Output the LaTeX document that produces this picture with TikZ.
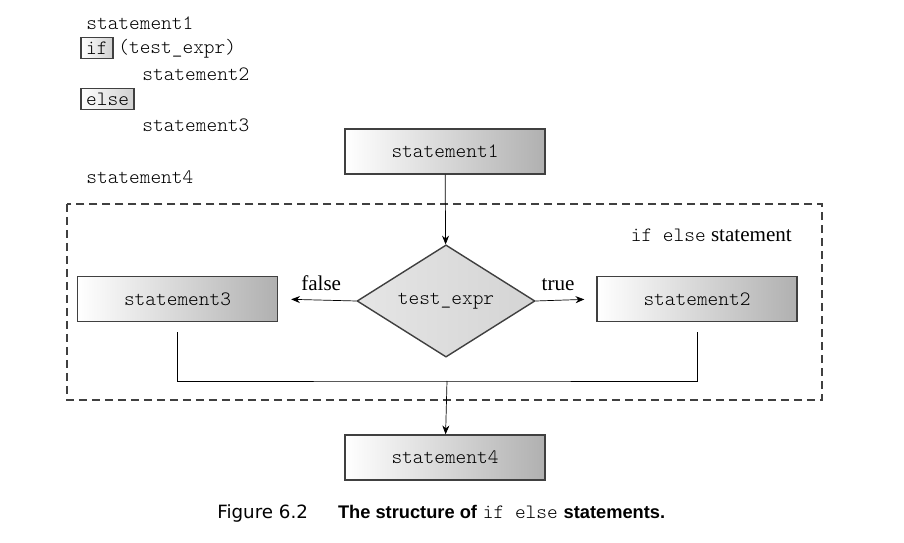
\documentclass[tikz,border=0pt]{standalone}
\usepackage{fontspec}
\setmainfont{Liberation Serif}
\setmonofont{Latin Modern Mono Light}
\newfontfamily\figcapfont{DejaVu Sans}
\newfontfamily\figcapbold{Liberation Sans}
\definecolor{FIGedge}{HTML}{404040}
\definecolor{FIGshade}{HTML}{B0B0B0}
\definecolor{FIGdiamond}{HTML}{D4D4D4}
\usetikzlibrary{shapes.geometric, arrows.meta, positioning}

\begin{document}
\begin{tikzpicture}[x=0.02cm, y=-0.02cm,
      code/.style={font=\ttfamily\fontsize{11.6}{13}\selectfont, inner sep=0pt, anchor=west},
      keybox/.style={code, draw=FIGedge, line width=1.1pt, left color=white, right color=FIGshade!60, inner xsep=3pt, minimum height=0.42cm},
      stmt/.style={draw=FIGedge, line width=0.8pt, left color=white, right color=FIGshade, minimum width=4cm, minimum height=0.9cm, font=\ttfamily\fontsize{11.6}{13}\selectfont},
      decision/.style={diamond, draw=FIGedge, line width=0.8pt, left color=FIGdiamond!60, right color=FIGdiamond, minimum width=3.56cm, minimum height=2.24cm, inner sep=0pt, font=\ttfamily\fontsize{11.6}{13}\selectfont},
      flow/.style={-{Stealth[length=5pt, width=4pt]}, thin},
      branch/.style={font=\fontsize{12}{14}\selectfont}
   ]
      \useasboundingbox (0,0) rectangle (904,543);
      % Code listing
      \node[code] (s1code) at (86,23) {statement1};
      \node[keybox] (ifkw) at (80,48) {if};
      \node[code] (cond) at (118,49) {(test\_expr)};
      \node[code] (s2code) at (142,74) {statement2};
      \node[keybox] (elsekw) at (80,99) {else};
      \node[code] (s3code) at (142,125) {statement3};
      \node[code] (s4code) at (86,177) {statement4};
      % Dashed frame of the if else part
      \draw[FIGedge, line width=0.8pt, dash pattern=on 0.16cm off 0.1cm] (67,204) rectangle (822,400);
      \node[branch, anchor=east] (frametitle) at (798,235) {\texttt{\fontsize{11.6}{13}\selectfont if else} statement};
      % Flowchart
      \node[stmt] (st1) at (445,151.5) {statement1};
      \node[decision] (test) at (446,301) {test\_expr};
      \node[stmt] (st3) at (177.5,299) {statement3};
      \node[stmt] (st2) at (697,299) {statement2};
      \node[stmt] (st4) at (445,457.5) {statement4};
      \coordinate (join) at (447,381);
      \draw[flow] (st1) -- (test);
      \draw[flow, shorten >=0.26cm] (test.west) -- (st3.east)
         node[branch, above, pos=0.45, yshift=2pt] {false};
      \draw[flow, shorten >=0.24cm] (test.east) -- (st2.west)
         node[branch, above, pos=0.37, yshift=2pt] {true};
      \draw[thin] ([yshift=-0.2cm]st3.south) |- (join) -| ([yshift=-0.2cm]st2.south);
      \draw[flow] (join) -- (st4);
      % Caption
      \node[anchor=west, font=\figcapfont\fontsize{10.4}{12}\selectfont, inner sep=0pt] (caption) at (217,513)
         {Figure 6.2\hspace{0.6cm}{\figcapbold\bfseries The structure of} \texttt{\fontsize{11.6}{13}\selectfont if else} {\figcapbold\bfseries statements.}};
   \end{tikzpicture}
\end{document}
